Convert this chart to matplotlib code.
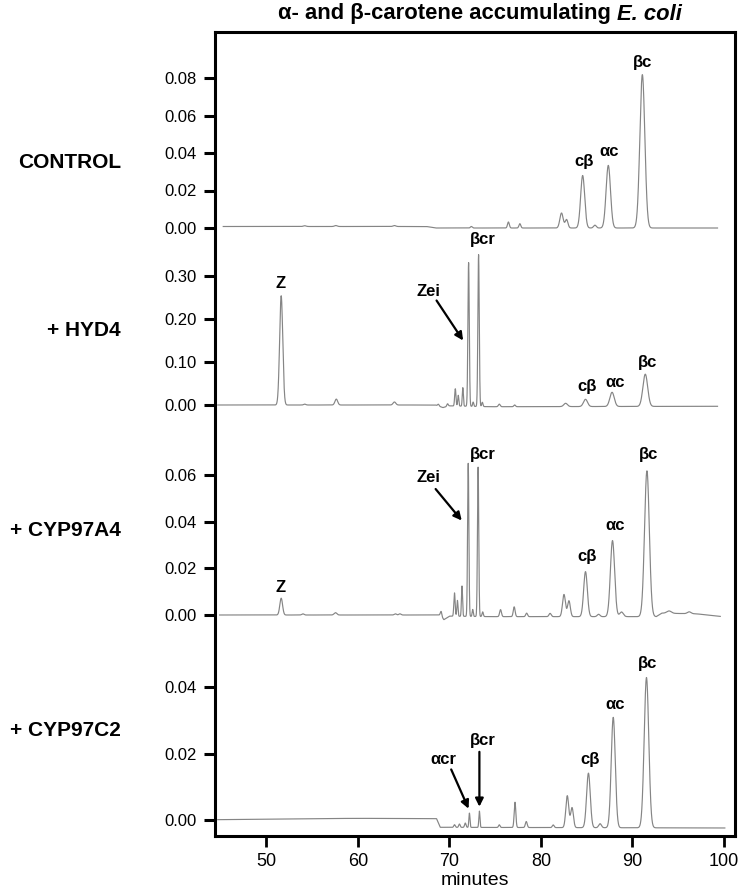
import numpy as np
import matplotlib
matplotlib.use("Agg")
import matplotlib.pyplot as plt

plt.rcParams['font.family'] = ['Liberation Sans', 'DejaVu Sans']

# ---------------- data ----------------
title_main = "α- and β-carotene accumulating "
title_ital = "E. coli"
row_labels = ["CONTROL", "+ HYD4", "+ CYP97A4", "+ CYP97C2"]
x_ticks = [50, 60, 70, 80, 90, 100]
x_label = "minutes"

yticks_p1 = [0.00, 0.02, 0.04, 0.06, 0.08]
yticks_p2 = [0.00, 0.10, 0.20, 0.30]
yticks_p3 = [0.00, 0.02, 0.04, 0.06]
yticks_p4 = [0.00, 0.02, 0.04]
ytick_fmt = ["{:.2f}", "{:.2f}", "{:.2f}", "{:.2f}"]

# peaks: retention time (min), height, width (sigma, min)
p1_rt = [54.2, 57.6, 64.0, 72.4, 76.45, 77.7, 82.25, 82.8, 84.56, 85.9, 87.36, 91.08]
p1_h = [0.0004, 0.0005, 0.0005, 0.0008, 0.0032, 0.0023, 0.0080, 0.0045, 0.0280, 0.0015, 0.0334, 0.0818]
p1_w = [0.15, 0.15, 0.15, 0.10, 0.10, 0.10, 0.18, 0.15, 0.22, 0.15, 0.24, 0.27]
p1_base_t = [45.3, 67.5, 68.5, 99.3]
p1_base_v = [0.0008, 0.0008, 0.0, 0.0]

p2_rt = [51.63, 54.2, 57.65, 64.0, 68.8, 69.8, 70.65, 70.97, 71.47, 72.1, 72.6, 73.19, 73.6, 75.45, 77.13, 82.7, 84.87, 87.77, 91.4]
p2_h = [0.254, 0.002, 0.0137, 0.007, 0.004, 0.006, 0.040, 0.025, 0.043, 0.334, 0.010, 0.353, 0.010, 0.006, 0.004, 0.0076, 0.0168, 0.033, 0.075]
p2_w = [0.17, 0.12, 0.15, 0.15, 0.08, 0.08, 0.07, 0.06, 0.06, 0.075, 0.06, 0.075, 0.07, 0.10, 0.09, 0.20, 0.22, 0.24, 0.26]
p2_base_t = [44.7, 68.5, 69.3, 70.0, 74.5, 99.3]
p2_base_v = [0.0, 0.0, -0.006, -0.002, -0.004, -0.003]

p3_rt = [51.63, 54.0, 57.56, 64.1, 64.6, 69.1, 70.56, 70.88, 71.38, 72.06, 72.55, 73.14, 73.64, 75.59, 77.08, 78.44, 81.0, 82.52, 83.06, 84.87, 86.3, 87.82, 88.8, 91.58, 94.0, 96.2]
p3_h = [0.0072, 0.0005, 0.0010, 0.0005, 0.0005, 0.0020, 0.0100, 0.0068, 0.0130, 0.0656, 0.0030, 0.0640, 0.0020, 0.0030, 0.0042, 0.0015, 0.0014, 0.0095, 0.0068, 0.0193, 0.0010, 0.0326, 0.0020, 0.0625, 0.0010, 0.0008]
p3_w = [0.15, 0.12, 0.15, 0.12, 0.12, 0.08, 0.07, 0.06, 0.06, 0.07, 0.06, 0.07, 0.07, 0.10, 0.10, 0.10, 0.12, 0.16, 0.15, 0.20, 0.15, 0.23, 0.20, 0.26, 0.25, 0.20]
p3_base_t = [44.9, 69.0, 69.4, 70.0, 74.5, 92.6, 93.2, 97.0, 99.6]
p3_base_v = [0.0, 0.0, -0.002, -0.0005, -0.0007, -0.0007, 0.0008, 0.0005, -0.0006]

p4_rt = [70.56, 71.1, 71.74, 72.19, 73.28, 75.45, 77.17, 78.4, 81.34, 82.88, 83.4, 85.19, 86.46, 87.9, 91.53]
p4_h = [0.0008, 0.0010, 0.0013, 0.0043, 0.0049, 0.0008, 0.0076, 0.0018, 0.0008, 0.0096, 0.0060, 0.0164, 0.0012, 0.0332, 0.0452]
p4_w = [0.08, 0.08, 0.08, 0.06, 0.06, 0.08, 0.09, 0.10, 0.10, 0.16, 0.15, 0.20, 0.15, 0.22, 0.25]
p4_base_t = [44.7, 55.0, 60.0, 68.6, 69.0, 100.1]
p4_base_v = [0.0001, 0.0004, 0.0005, 0.0004, -0.0022, -0.0024]

# peak labels: text, x, y
p1_lbl = [("cβ", 84.7, 0.0355), ("αc", 87.5, 0.0409), ("βc", 91.08, 0.0884)]
p2_lbl = [("Z", 51.6, 0.282), ("βcr", 73.6, 0.385), ("cβ", 85.05, 0.042), ("αc", 88.13, 0.053), ("βc", 91.67, 0.099)]
p3_lbl = [("Z", 51.6, 0.0117), ("βcr", 73.7, 0.069), ("cβ", 85.05, 0.0251), ("αc", 88.1, 0.0383), ("βc", 91.76, 0.0686)]
p4_lbl = [("cβ", 85.4, 0.0183), ("αc", 88.1, 0.0348), ("βc", 91.6, 0.047)]
# arrows: text, text x, text y, arrow tail (x, y), arrow head (x, y)
p2_arr = [("Zei", 67.75, 0.263, 68.6, 0.243, 71.5, 0.150)]
p3_arr = [("Zei", 67.75, 0.059, 68.5, 0.054, 71.35, 0.0405)]
p4_arr = [("αcr", 69.3, 0.0183, 70.2, 0.0152, 72.1, 0.0034),
          ("βcr", 73.7, 0.0240, 73.28, 0.0205, 73.28, 0.0040)]

# ---------------- layout ----------------
W, H = 740, 893
fig = plt.figure(figsize=(W / 100, H / 100), dpi=100)
frame_l, frame_r, frame_t, frame_b = 215, 735, 32, 836
xlim = (44.4, 101.2)

def fig_rect(top_px, bot_px):
    return [frame_l / W, (H - bot_px) / H, (frame_r - frame_l) / W, (bot_px - top_px) / H]

main = fig.add_axes(fig_rect(frame_t, frame_b))
main.set_xlim(*xlim)
main.set_ylim(0, 1)
main.set_yticks([])
main.set_xticks(x_ticks)
main.set_xticklabels([str(v) for v in x_ticks], fontsize=13)
main.tick_params(axis='x', direction='out', length=8, width=2, pad=4)
for s in main.spines.values():
    s.set_linewidth(2.2)
main.set_xlabel(x_label, fontsize=14, labelpad=2)

# panels: zero-pixel, px per unit, ylim
panels = [
    (228, 1875, (-0.008, 0.10), yticks_p1, p1_rt, p1_h, p1_w, p1_base_t, p1_base_v, p1_lbl, []),
    (405, 430, (-0.03, 0.40), yticks_p2, p2_rt, p2_h, p2_w, p2_base_t, p2_base_v, p2_lbl, p2_arr),
    (615, 2333, (-0.006, 0.075), yticks_p3, p3_rt, p3_h, p3_w, p3_base_t, p3_base_v, p3_lbl, p3_arr),
    (820, 3325, (-0.005, 0.05), yticks_p4, p4_rt, p4_h, p4_w, p4_base_t, p4_base_v, p4_lbl, p4_arr),
]
label_y_px = [162, 330, 531, 731]

for i, (z, sc, yl, yt, rt, hh, ww, bt, bv, lbls, arrs) in enumerate(panels):
    top_px = z - yl[1] * sc
    bot_px = z - yl[0] * sc
    ax = fig.add_axes(fig_rect(top_px, bot_px))
    ax.patch.set_alpha(0)
    for s in ax.spines.values():
        s.set_visible(False)
    ax.set_xlim(*xlim)
    ax.set_ylim(*yl)
    ax.set_xticks([])
    ax.set_yticks(yt)
    ax.set_yticklabels([ytick_fmt[i].format(v) for v in yt], fontsize=12)
    ax.tick_params(axis='y', direction='out', length=8, width=2.2, pad=5)
    t = np.arange(bt[0], bt[-1], 0.01)
    y = np.interp(t, bt, bv)
    for r, h, w in zip(rt, hh, ww):
        y = y + h * np.exp(-0.5 * ((t - r) / w) ** 2)
    ax.plot(t, y, color='#858585', lw=0.85)
    for txt, lx, ly in lbls:
        ax.text(lx, ly, txt, ha='center', va='center', fontsize=12, fontweight='bold')
    for txt, tx, ty, ax0, ay0, ax1, ay1 in arrs:
        ax.text(tx, ty, txt, ha='center', va='center', fontsize=12, fontweight='bold')
        ax.annotate('', xy=(ax1, ay1), xytext=(ax0, ay0),
                    arrowprops=dict(arrowstyle='-|>', color='black', lw=1.6,
                                    mutation_scale=12, shrinkA=0, shrinkB=0))
    fig.text(121 / W, 1 - label_y_px[i] / H, row_labels[i], ha='right', va='center',
             fontsize=15, fontweight='bold')

# title (two parts: upright + italic), sized to span ~405 px
fs0 = 14.0
ttl = fig.text(0, 0, title_main, fontsize=fs0, fontweight='bold', va='center')
t2 = fig.text(0, 0, title_ital, fontsize=fs0, fontweight='bold', style='italic', va='center')
fig.canvas.draw()
r = fig.canvas.get_renderer()
tot = ttl.get_window_extent(r).width + t2.get_window_extent(r).width
fs = fs0 * 405.0 / tot
ttl.set_fontsize(fs)
t2.set_fontsize(fs)
fig.canvas.draw()
w1 = ttl.get_window_extent(r).width
w2 = t2.get_window_extent(r).width
cx = 480
x0 = cx - (w1 + w2) / 2
ttl.set_position((x0 / W, 1 - 14 / H))
t2.set_position(((x0 + w1) / W, 1 - 14 / H))

fig.savefig("out.png", dpi=100)
